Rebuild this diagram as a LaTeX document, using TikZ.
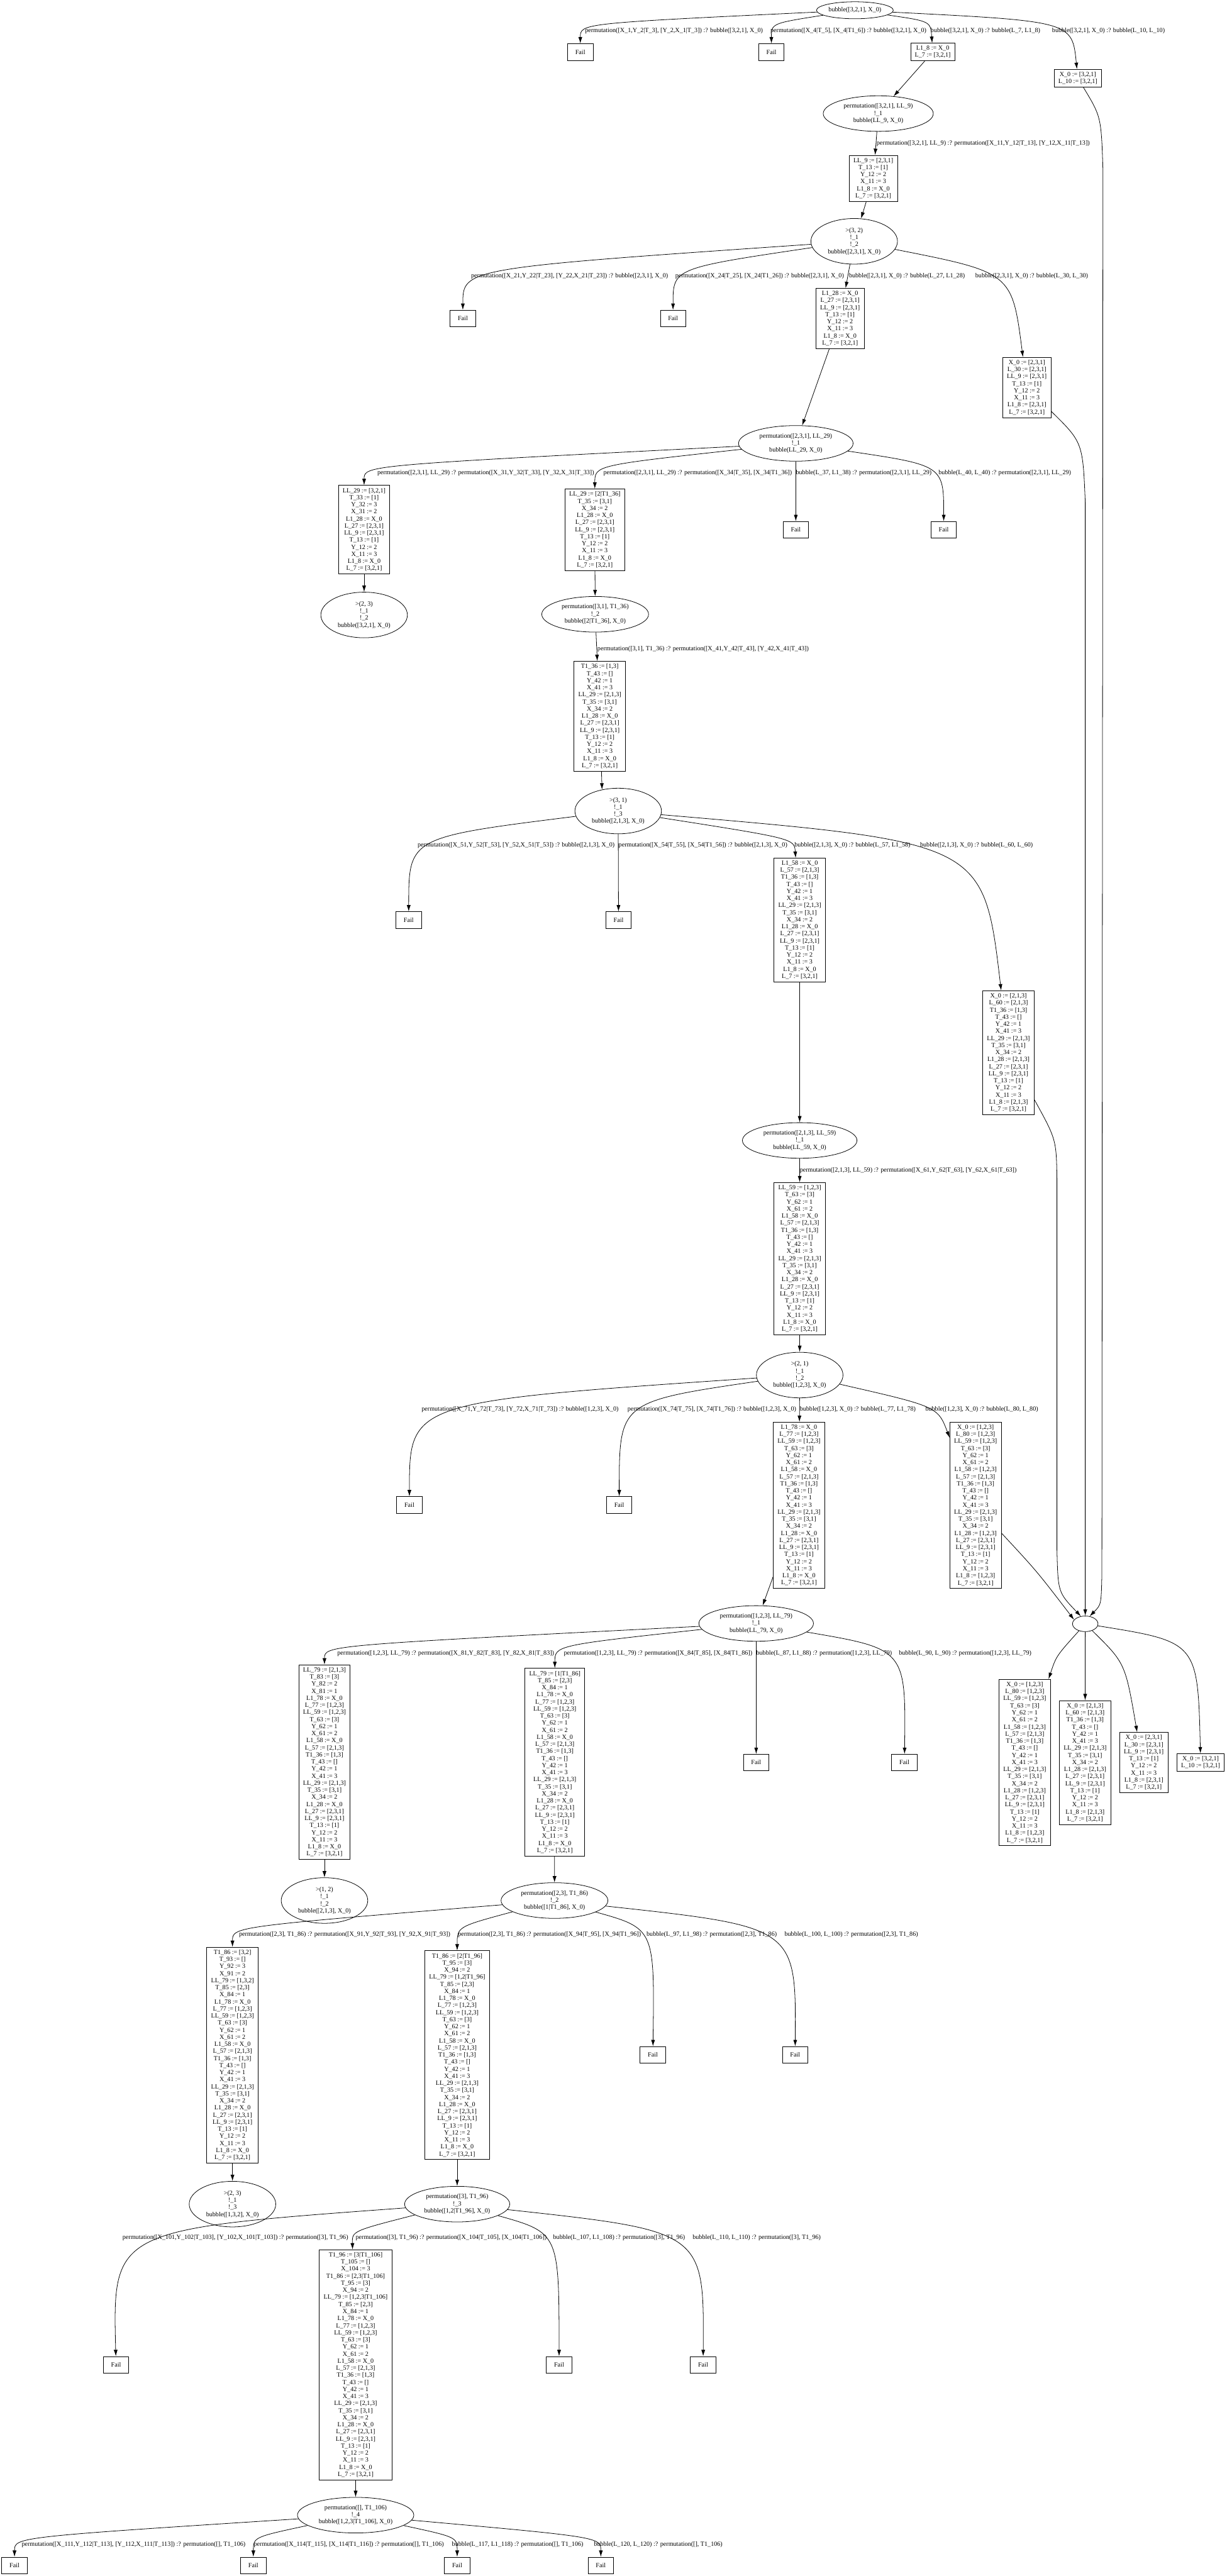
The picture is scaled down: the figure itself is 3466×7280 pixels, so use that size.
\documentclass[tikz,border=0pt]{standalone}
\usepackage{fontspec}
\setmainfont{Liberation Serif}
\usetikzlibrary{arrows.meta,positioning,shapes.geometric}

\newcommand{\bindnine}{LL\_9 := [2,3,1]\\T\_13 := [1]\\Y\_12 := 2\\X\_11 := 3\\L1\_8 := X\_0\\L\_7 := [3,2,1]}
\newcommand{\bindtwoeight}{L1\_28 := X\_0\\L\_27 := [2,3,1]\\\bindnine}
\newcommand{\bindthreesix}{T1\_36 := [1,3]\\T\_43 := []\\Y\_42 := 1\\X\_41 := 3\\LL\_29 := [2,1,3]\\T\_35 := [3,1]\\X\_34 := 2\\\bindtwoeight}
\newcommand{\bindfiveeight}{L1\_58 := X\_0\\L\_57 := [2,1,3]\\\bindthreesix}
\newcommand{\bindfivenine}{LL\_59 := [1,2,3]\\T\_63 := [3]\\Y\_62 := 1\\X\_61 := 2\\\bindfiveeight}
\newcommand{\bindseveneight}{L1\_78 := X\_0\\L\_77 := [1,2,3]\\\bindfivenine}
\newcommand{\solthreetwoone}{X\_0 := [3,2,1]\\L\_10 := [3,2,1]}
\newcommand{\soltwothreeone}{X\_0 := [2,3,1]\\L\_30 := [2,3,1]\\LL\_9 := [2,3,1]\\T\_13 := [1]\\Y\_12 := 2\\X\_11 := 3\\L1\_8 := [2,3,1]\\L\_7 := [3,2,1]}
\newcommand{\soltwoonethree}{X\_0 := [2,1,3]\\L\_60 := [2,1,3]\\T1\_36 := [1,3]\\T\_43 := []\\Y\_42 := 1\\X\_41 := 3\\LL\_29 := [2,1,3]\\T\_35 := [3,1]\\X\_34 := 2\\L1\_28 := [2,1,3]\\L\_27 := [2,3,1]\\LL\_9 := [2,3,1]\\T\_13 := [1]\\Y\_12 := 2\\X\_11 := 3\\L1\_8 := [2,1,3]\\L\_7 := [3,2,1]}
\newcommand{\solonetwothree}{X\_0 := [1,2,3]\\L\_80 := [1,2,3]\\LL\_59 := [1,2,3]\\T\_63 := [3]\\Y\_62 := 1\\X\_61 := 2\\L1\_58 := [1,2,3]\\L\_57 := [2,1,3]\\T1\_36 := [1,3]\\T\_43 := []\\Y\_42 := 1\\X\_41 := 3\\LL\_29 := [2,1,3]\\T\_35 := [3,1]\\X\_34 := 2\\L1\_28 := [1,2,3]\\L\_27 := [2,3,1]\\LL\_9 := [2,3,1]\\T\_13 := [1]\\Y\_12 := 2\\X\_11 := 3\\L1\_8 := [1,2,3]\\L\_7 := [3,2,1]}

\begin{document}
\begin{tikzpicture}[
    x=0.5pt, y=0.5pt,
    node distance=25pt and 12pt,
    every node/.style={font=\fontsize{9pt}{10pt}\selectfont,align=center},
    goalnode/.style={draw,ellipse,line width=0.7pt,inner xsep=6pt,inner ysep=3.7pt},
    bindbox/.style={draw,rectangle,line width=0.7pt,inner xsep=6pt,inner ysep=3.75pt},
    failbox/.style={draw,rectangle,line width=0.7pt,minimum width=36pt,
      minimum height=23.5pt,inner sep=2pt},
    lbl/.style={anchor=west,inner sep=0pt},
    trans/.style={-{Latex[length=9pt,width=5.5pt]},line width=0.7pt}
  ]
    \useasboundingbox (0,0) rectangle (3466,-7280);

    \node[goalnode,inner xsep=1pt,minimum width=108.5pt,minimum height=24pt] (goal0)
      at (2416,-29) {bubble([3,2,1], X\_0)};
    \node[failbox] (fail1) at (1640,-147) {Fail};
    \node[failbox] (fail2) at (2180,-147) {Fail};
    \node[bindbox] (sub1) at (2636,-147) {L1\_8 := X\_0\\L\_7 := [3,2,1]};
    \node[bindbox] (sub2) at (3046,-221) {\solthreetwoone};
    \node[goalnode] (goal1) at (2482,-321)
      {permutation([3,2,1], LL\_9)\\!\_1\\bubble(LL\_9, X\_0)};
    \node[bindbox] (sub3) at (2468,-504) {\bindnine};
    \node[goalnode] (goal2) at (2414,-682) {>(3, 2)\\!\_1\\!\_2\\bubble([2,3,1], X\_0)};
    \node[failbox] (fail3) at (1308,-900) {Fail};
    \node[failbox] (fail4) at (1902,-900) {Fail};
    \node[bindbox] (sub4) at (2374,-900) {\bindtwoeight};
    \node[bindbox] (sub5) at (2902,-1095) {\soltwothreeone};
    \node[goalnode] (goal3) at (2249,-1253)
      {permutation([2,3,1], LL\_29)\\!\_1\\bubble(LL\_29, X\_0)};
    \node[bindbox] (sub6) at (1029,-1497)
      {LL\_29 := [3,2,1]\\T\_33 := [1]\\Y\_32 := 3\\X\_31 := 2\\\bindtwoeight};
    \node[bindbox] (sub7) at (1681,-1497)
      {LL\_29 := [2|T1\_36]\\T\_35 := [3,1]\\X\_34 := 2\\\bindtwoeight};
    \node[failbox] (fail5) at (2249,-1497) {Fail};
    \node[failbox] (fail6) at (2667,-1497) {Fail};
    \node[goalnode,below=of sub6] (goal4) {>(2, 3)\\!\_1\\!\_2\\bubble([3,2,1], X\_0)};
    \node[goalnode] (goal5) at (1682,-1736)
      {permutation([3,1], T1\_36)\\!\_2\\bubble([2|T1\_36], X\_0)};
    \node[bindbox] (sub8) at (1695,-2024) {\bindthreesix};
    \node[goalnode] (goal6) at (1747,-2292) {>(3, 1)\\!\_1\\!\_3\\bubble([2,1,3], X\_0)};
    \node[failbox] (fail7) at (1155,-2600) {Fail};
    \node[failbox] (fail8) at (1748,-2600) {Fail};
    \node[bindbox] (sub9) at (2260,-2600) {\bindfiveeight};
    \node[bindbox] (sub10) at (2850,-2975) {\soltwoonethree};
    \node[goalnode] (goal7) at (2260,-3223)
      {permutation([2,1,3], LL\_59)\\!\_1\\bubble(LL\_59, X\_0)};
    \node[bindbox] (sub11) at (2260,-3557) {\bindfivenine};
    \node[goalnode] (goal8) at (2260,-3886) {>(2, 1)\\!\_1\\!\_2\\bubble([1,2,3], X\_0)};
    \node[failbox] (fail9) at (1157,-4253) {Fail};
    \node[failbox] (fail10) at (1750,-4253) {Fail};
    \node[bindbox] (sub12) at (2258,-4254) {\bindseveneight};
    \node[bindbox] (sub13) at (2757,-4254) {\solonetwothree};
    \node[goalnode] (goal9) at (2137,-4588)
      {permutation([1,2,3], LL\_79)\\!\_1\\bubble(LL\_79, X\_0)};
    \node[bindbox] (sub14) at (917,-4980)
      {LL\_79 := [2,1,3]\\T\_83 := [3]\\Y\_82 := 2\\X\_81 := 1\\\bindseveneight};
    \node[bindbox] (sub15) at (1568,-4980)
      {LL\_79 := [1|T1\_86]\\T\_85 := [2,3]\\X\_84 := 1\\\bindseveneight};
    \node[failbox] (fail11) at (2137,-4981) {Fail};
    \node[failbox] (fail12) at (2556,-4981) {Fail};
    \node[goalnode,below=of sub14] (goal10) {>(1, 2)\\!\_1\\!\_2\\bubble([2,1,3], X\_0)};
    \node[goalnode] (goal11) at (1567,-5371)
      {permutation([2,3], T1\_86)\\!\_2\\bubble([1|T1\_86], X\_0)};
    \node[bindbox] (sub16) at (657,-5808)
      {T1\_86 := [3,2]\\T\_93 := []\\Y\_92 := 3\\X\_91 := 2\\LL\_79 := [1,3,2]\\T\_85 := [2,3]\\X\_84 := 1\\\bindseveneight};
    \node[bindbox] (sub17) at (1292,-5808)
      {T1\_86 := [2|T1\_96]\\T\_95 := [3]\\X\_94 := 2\\LL\_79 := [1,2|T1\_96]\\T\_85 := [2,3]\\X\_84 := 1\\\bindseveneight};
    \node[failbox] (fail13) at (1845,-5807) {Fail};
    \node[failbox] (fail14) at (2247,-5807) {Fail};
    \node[goalnode,below=of sub16] (goal12) {>(2, 3)\\!\_1\\!\_3\\bubble([1,3,2], X\_0)};
    \node[goalnode] (goal13) at (1292,-6229)
      {permutation([3], T1\_96)\\!\_3\\bubble([1,2|T1\_96], X\_0)};
    \node[failbox] (fail15) at (328,-6683) {Fail};
    \node[bindbox] (sub18) at (1005,-6683)
      {T1\_96 := [3|T1\_106]\\T\_105 := []\\X\_104 := 3\\T1\_86 := [2,3|T1\_106]\\T\_95 := [3]\\X\_94 := 2\\LL\_79 := [1,2,3|T1\_106]\\T\_85 := [2,3]\\X\_84 := 1\\\bindseveneight};
    \node[failbox] (fail16) at (1580,-6683) {Fail};
    \node[failbox] (fail17) at (1987,-6683) {Fail};
    \node[goalnode] (goal14) at (1005,-7108)
      {permutation([], T1\_106)\\!\_4\\bubble([1,2,3|T1\_106], X\_0)};
    \node[failbox] (fail18) at (41,-7250) {Fail};
    \node[failbox] (fail19) at (716,-7250) {Fail};
    \node[failbox] (fail20) at (1292,-7250) {Fail};
    \node[failbox] (fail21) at (1698,-7250) {Fail};
    \node[goalnode,inner sep=0pt,minimum width=36pt,minimum height=22pt] (done)
      at (3067,-4589) {};
    \node[bindbox] (ans1) at (2896,-4981) {\solonetwothree};
    \node[bindbox,right=of ans1] (ans2) {\soltwoonethree};
    \node[bindbox,right=of ans2] (ans3) {\soltwothreeone};
    \node[bindbox,right=of ans3] (ans4) {\solthreetwoone};

    \node[lbl] (lab1) at (1653,-88) {permutation([X\_1,Y\_2|T\_3], [Y\_2,X\_1|T\_3]) :? bubble([3,2,1], X\_0)};
    \node[lbl] (lab2) at (2177,-88) {permutation([X\_4|T\_5], [X\_4|T1\_6]) :? bubble([3,2,1], X\_0)};
    \node[lbl] (lab3) at (2630,-88) {bubble([3,2,1], X\_0) :? bubble(L\_7, L1\_8)};
    \node[lbl] (lab4) at (2973,-88) {bubble([3,2,1], X\_0) :? bubble(L\_10, L\_10)};
    \node[lbl] (lab5) at (2477,-405) {permutation([3,2,1], LL\_9) :? permutation([X\_11,Y\_12|T\_13], [Y\_12,X\_11|T\_13])};
    \node[lbl] (lab6) at (1331,-780) {permutation([X\_21,Y\_22|T\_23], [Y\_22,X\_21|T\_23]) :? bubble([2,3,1], X\_0)};
    \node[lbl] (lab7) at (1908,-780) {permutation([X\_24|T\_25], [X\_24|T1\_26]) :? bubble([2,3,1], X\_0)};
    \node[lbl] (lab8) at (2399,-780) {bubble([2,3,1], X\_0) :? bubble(L\_27, L1\_28)};
    \node[lbl] (lab9) at (2756,-780) {bubble([2,3,1], X\_0) :? bubble(L\_30, L\_30)};
    \node[lbl] (lab10) at (1066,-1337) {permutation([2,3,1], LL\_29) :? permutation([X\_31,Y\_32|T\_33], [Y\_32,X\_31|T\_33])};
    \node[lbl] (lab11) at (1705,-1337) {permutation([2,3,1], LL\_29) :? permutation([X\_34|T\_35], [X\_34|T1\_36])};
    \node[lbl] (lab12) at (2249,-1337) {bubble(L\_37, L1\_38) :? permutation([2,3,1], LL\_29)};
    \node[lbl] (lab13) at (2652,-1337) {bubble(L\_40, L\_40) :? permutation([2,3,1], LL\_29)};
    \node[lbl] (lab14) at (1688,-1834) {permutation([3,1], T1\_36) :? permutation([X\_41,Y\_42|T\_43], [Y\_42,X\_41|T\_43])};
    \node[lbl] (lab15) at (1180,-2388) {permutation([X\_51,Y\_52|T\_53], [Y\_52,X\_51|T\_53]) :? bubble([2,1,3], X\_0)};
    \node[lbl] (lab16) at (1748,-2388) {permutation([X\_54|T\_55], [X\_54|T1\_56]) :? bubble([2,1,3], X\_0)};
    \node[lbl] (lab17) at (2245,-2388) {bubble([2,1,3], X\_0) :? bubble(L\_57, L1\_58)};
    \node[lbl] (lab18) at (2600,-2388) {bubble([2,1,3], X\_0) :? bubble(L\_60, L\_60)};
    \node[lbl] (lab19) at (2260,-3308) {permutation([2,1,3], LL\_59) :? permutation([X\_61,Y\_62|T\_63], [Y\_62,X\_61|T\_63])};
    \node[lbl] (lab20) at (1191,-3983) {permutation([X\_71,Y\_72|T\_73], [Y\_72,X\_71|T\_73]) :? bubble([1,2,3], X\_0)};
    \node[lbl] (lab21) at (1773,-3983) {permutation([X\_74|T\_75], [X\_74|T1\_76]) :? bubble([1,2,3], X\_0)};
    \node[lbl] (lab22) at (2260,-3983) {bubble([1,2,3], X\_0) :? bubble(L\_77, L1\_78)};
    \node[lbl] (lab23) at (2615,-3983) {bubble([1,2,3], X\_0) :? bubble(L\_80, L\_80)};
    \node[lbl] (lab24) at (953,-4672) {permutation([1,2,3], LL\_79) :? permutation([X\_81,Y\_82|T\_83], [Y\_82,X\_81|T\_83])};
    \node[lbl] (lab25) at (1593,-4672) {permutation([1,2,3], LL\_79) :? permutation([X\_84|T\_85], [X\_84|T1\_86])};
    \node[lbl] (lab26) at (2137,-4672) {bubble(L\_87, L1\_88) :? permutation([1,2,3], LL\_79)};
    \node[lbl] (lab27) at (2540,-4672) {bubble(L\_90, L\_90) :? permutation([1,2,3], LL\_79)};
    \node[lbl] (lab28) at (675,-5467) {permutation([2,3], T1\_86) :? permutation([X\_91,Y\_92|T\_93], [Y\_92,X\_91|T\_93])};
    \node[lbl] (lab29) at (1294,-5467) {permutation([2,3], T1\_86) :? permutation([X\_94|T\_95], [X\_94|T1\_96])};
    \node[lbl] (lab30) at (1827,-5467) {bubble(L\_97, L1\_98) :? permutation([2,3], T1\_86)};
    \node[lbl] (lab31) at (2217,-5467) {bubble(L\_100, L\_100) :? permutation([2,3], T1\_86)};
    \node[lbl] (lab32) at (346,-6324) {permutation([X\_101,Y\_102|T\_103], [Y\_102,X\_101|T\_103]) :? permutation([3], T1\_96)};
    \node[lbl] (lab33) at (1005,-6324) {permutation([3], T1\_96) :? permutation([X\_104|T\_105], [X\_104|T1\_106])};
    \node[lbl] (lab34) at (1563,-6324) {bubble(L\_107, L1\_108) :? permutation([3], T1\_96)};
    \node[lbl] (lab35) at (1957,-6324) {bubble(L\_110, L\_110) :? permutation([3], T1\_96)};
    \node[lbl] (lab36) at (61,-7192) {permutation([X\_111,Y\_112|T\_113], [Y\_112,X\_111|T\_113]) :? permutation([], T1\_106)};
    \node[lbl] (lab37) at (717,-7192) {permutation([X\_114|T\_115], [X\_114|T1\_116]) :? permutation([], T1\_106)};
    \node[lbl] (lab38) at (1277,-7192) {bubble(L\_117, L1\_118) :? permutation([], T1\_106)};
    \node[lbl] (lab39) at (1678,-7192) {bubble(L\_120, L\_120) :? permutation([], T1\_106)};

    \draw[trans] (goal0) .. controls (1640,-66) .. (fail1);
    \draw[trans] (goal0) .. controls (2180,-66) .. (fail2);
    \draw[trans] (goal0) .. controls (2630,-60) .. (sub1);
    \draw[trans] (goal0) .. controls (3030,-60) .. (sub2);
    \draw[trans] (sub1) -- (goal1);
    \draw[trans] (goal1) -- (sub3);
    \draw[trans] (sub3) -- (goal2);
    \draw[trans] (goal2) .. controls (1308,-758) .. (fail3);
    \draw[trans] (goal2) .. controls (1902,-758) .. (fail4);
    \draw[trans] (goal2) -- (sub4);
    \draw[trans] (goal2) .. controls (2860,-770) .. (sub5);
    \draw[trans] (sub4) -- (goal3);
    \draw[trans] (goal3) .. controls (1029,-1315) .. (sub6);
    \draw[trans] (goal3) .. controls (1681,-1315) .. (sub7);
    \draw[trans] (goal3) -- (fail5);
    \draw[trans] (goal3) .. controls (2667,-1315) .. (fail6);
    \draw[trans] (sub6) -- (goal4);
    \draw[trans] (sub7) -- (goal5);
    \draw[trans] (goal5) -- (sub8);
    \draw[trans] (sub8) -- (goal6.127);
    \draw[trans] (goal6) .. controls (1155,-2366) .. (fail7);
    \draw[trans] (goal6) -- (fail8);
    \draw[trans] (goal6) .. controls (2245,-2370) .. (sub9);
    \draw[trans] (goal6) .. controls (2780,-2380) .. (sub10);
    \draw[trans] (sub9) -- (goal7);
    \draw[trans] (goal7) -- (sub11);
    \draw[trans] (sub11) -- (goal8);
    \draw[trans] (goal8) .. controls (1157,-3961) .. (fail9);
    \draw[trans] (goal8) .. controls (1750,-3961) .. (fail10);
    \draw[trans] (goal8) -- (sub12);
    \draw[trans] (goal8) .. controls (2650,-3975) .. (sub13);
    \draw[trans] (sub12) -- (goal9);
    \draw[trans] (goal9) .. controls (917,-4650) .. (sub14);
    \draw[trans] (goal9) .. controls (1568,-4650) .. (sub15);
    \draw[trans] (goal9) -- (fail11);
    \draw[trans] (goal9) .. controls (2560,-4660) .. (fail12);
    \draw[trans] (sub14) -- (goal10);
    \draw[trans] (sub15) -- (goal11);
    \draw[trans] (goal11) .. controls (657,-5445) .. (sub16);
    \draw[trans] (goal11) .. controls (1292,-5445) .. (sub17);
    \draw[trans] (goal11) .. controls (1850,-5450) .. (fail13);
    \draw[trans] (goal11) .. controls (2250,-5445) .. (fail14);
    \draw[trans] (sub16) -- (goal12);
    \draw[trans] (sub17) -- (goal13);
    \draw[trans] (goal13) .. controls (318,-6300) .. (fail15);
    \draw[trans] (goal13) .. controls (995,-6305) .. (sub18);
    \draw[trans] (goal13) .. controls (1580,-6310) .. (fail16);
    \draw[trans] (goal13) .. controls (1990,-6305) .. (fail17);
    \draw[trans] (sub18) -- (goal14);
    \draw[trans] (goal14) .. controls (41,-7170) .. (fail18);
    \draw[trans] (goal14) .. controls (716,-7170) .. (fail19);
    \draw[trans] (goal14) .. controls (1292,-7170) .. (fail20);
    \draw[trans] (goal14) .. controls (1698,-7170) .. (fail21);

    \coordinate (bend1) at (3117,-480);
    \coordinate (bend2) at (3114,-4450);
    \coordinate (bend3) at (3067,-1420);
    \coordinate (bend4) at (2987,-3330);
    \coordinate (bend5) at (2987,-4380);
    \draw[trans] (sub2) .. controls (3112,-330) .. (bend1) -- (bend2)
      .. controls (3112,-4535) .. (done.60);
    \draw[trans] (sub5) .. controls (3060,-1250) .. (bend3) -- (done.north);
    \draw[trans] (sub10) .. controls (2985,-3220) .. (bend4) -- (bend5)
      .. controls (2990,-4500) .. (done.120);
    \draw[trans] (sub13) .. controls (2930,-4440) .. (done.160);
    \draw[trans] (done) .. controls (2985,-4680) .. ([xshift=-3pt]ans1.north east);
    \draw[trans] (done) -- (ans2);
    \draw[trans] (done) .. controls (3180,-4700) .. ([xshift=-9.5pt]ans3.north);
    \draw[trans] (done) .. controls (3385,-4640) .. (ans4);
  \end{tikzpicture}
\end{document}
